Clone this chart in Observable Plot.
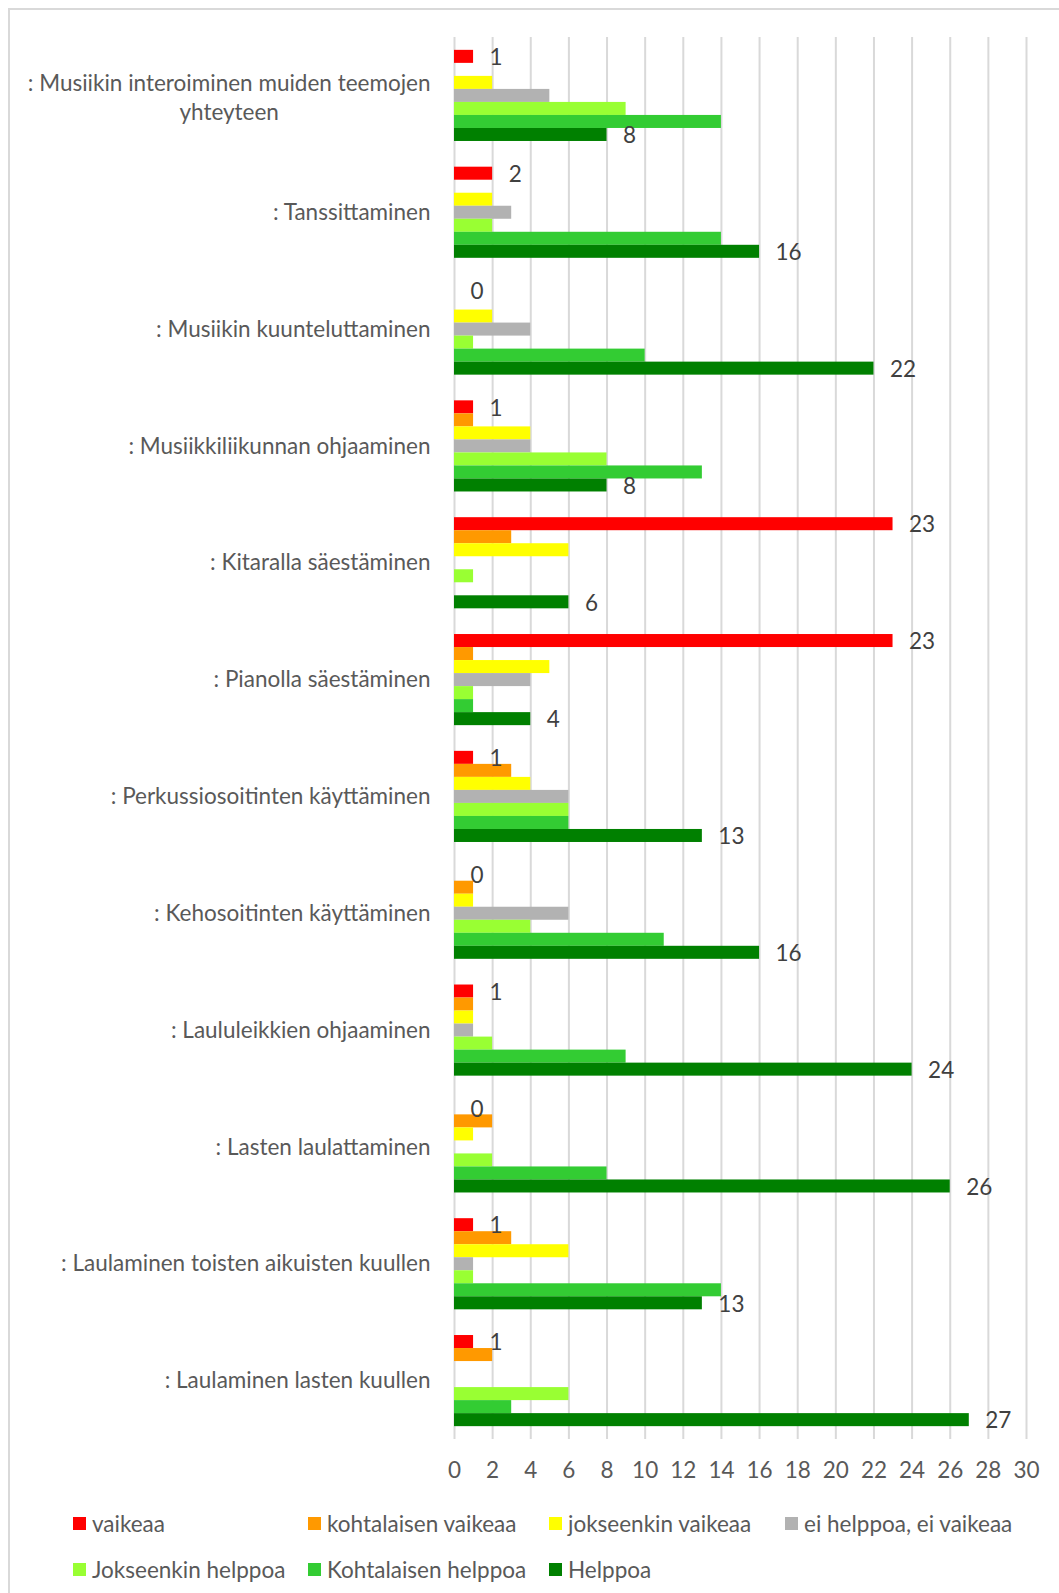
<!DOCTYPE html>
<html>
<head>
<meta charset="utf-8">
<script src="https://cdn.jsdelivr.net/npm/d3@7"></script>
<script src="https://cdn.jsdelivr.net/npm/@observablehq/plot@0.6"></script>
<style>
  html, body { margin: 0; padding: 0; background: #fff; }
  #wrap { position: relative; width: 1059px; height: 1593px; overflow: hidden; font-family: Lato, sans-serif; }
  #frame { position: absolute; left: 8px; top: 8px; right: -10px; bottom: -10px; border-top: 2px solid #d9d9d9; border-left: 2px solid #d9d9d9; }
  #chart { position: absolute; left: 0; top: 0; }
  #legend { position: absolute; left: 73px; top: 1500px; display: grid; grid-template-columns: 235px 241px 236px auto; grid-auto-rows: 46px; font-size: 22.5px; color: #595959; }
  .item { display: flex; align-items: center; white-space: nowrap; }
  .sw { width: 13px; height: 13px; margin-right: 6px; flex: none; }
</style>
</head>
<body>
<div id="wrap">
  <div id="frame"></div>
  <div id="chart"></div>
  <div id="legend"></div>
</div>
<script>
const categories = [
  ": Musiikin interoiminen muiden teemojen yhteyteen",
  ": Tanssittaminen",
  ": Musiikin kuunteluttaminen",
  ": Musiikkiliikunnan ohjaaminen",
  ": Kitaralla säestäminen",
  ": Pianolla säestäminen",
  ": Perkussiosoitinten käyttäminen",
  ": Kehosoitinten käyttäminen",
  ": Laululeikkien ohjaaminen",
  ": Lasten laulattaminen",
  ": Laulaminen toisten aikuisten kuullen",
  ": Laulaminen lasten kuullen"
];
const wrappedFirstLabel = [": Musiikin interoiminen muiden teemojen", "yhteyteen"];
const seriesNames = ["vaikeaa", "kohtalaisen vaikeaa", "jokseenkin vaikeaa", "ei helppoa, ei vaikeaa", "Jokseenkin helppoa", "Kohtalaisen helppoa", "Helppoa"];
const seriesColors = ["#FF0000", "#FF9900", "#FFFF00", "#B2B2B2", "#99FF33", "#33CC33", "#008000"];
const vaikeaa            = [1, 2, 0, 1, 23, 23, 1, 0, 1, 0, 1, 1];
const kohtalaisenVaikeaa = [0, 0, 0, 1, 3, 1, 3, 1, 1, 2, 3, 2];
const jokseenkinVaikeaa  = [2, 2, 2, 4, 6, 5, 4, 1, 1, 1, 6, 0];
const eiHelppoaEiVaikeaa = [5, 3, 4, 4, 0, 4, 6, 6, 1, 0, 1, 0];
const jokseenkinHelppoa  = [9, 2, 1, 8, 1, 1, 6, 4, 2, 2, 1, 6];
const kohtalaisenHelppoa = [14, 14, 10, 13, 0, 1, 6, 11, 9, 8, 14, 3];
const helppoa            = [8, 16, 22, 8, 6, 4, 13, 16, 24, 26, 13, 27];
const xTicks = [0, 2, 4, 6, 8, 10, 12, 14, 16, 18, 20, 22, 24, 26, 28, 30];
const labelledSeries = ["vaikeaa", "Helppoa"];

const seriesValues = [vaikeaa, kohtalaisenVaikeaa, jokseenkinVaikeaa, eiHelppoaEiVaikeaa, jokseenkinHelppoa, kohtalaisenHelppoa, helppoa];
const rows = [];
categories.forEach((c, i) => seriesNames.forEach((s, j) => rows.push({category: c, series: s, si: j, value: seriesValues[j][i]})));

// layout
const W = 1059, H = 1500, MT = 37, MB = 61, ML = 454, MR = 33;
const PAD_IN = 0.22, PAD_OUT = 0.11;
const step = (H - MT - MB) / (categories.length - PAD_IN + 2 * PAD_OUT);
const bandW = step * (1 - PAD_IN);
const barH = bandW / seriesNames.length;
const FS = 22.5;

const ctx = document.createElement("canvas").getContext("2d");
ctx.font = FS + "px Lato";
const firstLineW = ctx.measureText(wrappedFirstLabel[0]).width;

const seriesMarks = seriesNames.map((s, j) =>
  Plot.barX(rows.filter(r => r.si === j), {
    y: "category", x: "value", fill: seriesColors[j],
    insetTop: j * barH, insetBottom: (seriesNames.length - 1 - j) * barH
  })
);
const labelMarks = seriesNames.map((s, j) => labelledSeries.includes(s) ?
  Plot.text(rows.filter(r => r.si === j), {
    y: "category", x: "value", text: d => String(d.value), textAnchor: "start",
    dx: 16, dy: j * barH + barH / 2 - bandW / 2 + 1, fill: "#404040"
  }) : null
).filter(Boolean);

const plot = Plot.plot({
  width: W,
  height: H,
  marginLeft: ML,
  marginRight: MR,
  marginTop: MT,
  marginBottom: MB,
  style: {fontFamily: "Lato, sans-serif", fontSize: FS + "px", color: "#595959", background: "transparent", overflow: "visible"},
  x: {domain: [0, 30], ticks: xTicks, tickSize: 0, tickPadding: 23, label: null},
  y: {domain: categories, axis: null, paddingInner: PAD_IN, paddingOuter: PAD_OUT, round: false, align: 0.5},
  marks: [
    Plot.ruleX(xTicks, {x: d => d, stroke: "#d9d9d9", strokeWidth: 2}),
    ...seriesMarks,
    ...labelMarks,
    Plot.text(categories.slice(1), {y: d => d, frameAnchor: "left", text: d => d, textAnchor: "end", dx: -24, fill: "#595959"}),
    Plot.text(categories.slice(0, 1), {y: d => d, frameAnchor: "left", text: () => wrappedFirstLabel.join("\n"), textAnchor: "middle", dx: -24 - firstLineW / 2, lineHeight: 1.31, fill: "#595959"})
  ]
});
document.getElementById("chart").appendChild(plot);

const legend = document.getElementById("legend");
seriesNames.forEach((s, i) => {
  const it = document.createElement("div");
  it.className = "item";
  const sw = document.createElement("span");
  sw.className = "sw";
  sw.style.background = seriesColors[i];
  const tx = document.createElement("span");
  tx.textContent = s;
  it.appendChild(sw); it.appendChild(tx);
  legend.appendChild(it);
});
</script>
</body>
</html>
